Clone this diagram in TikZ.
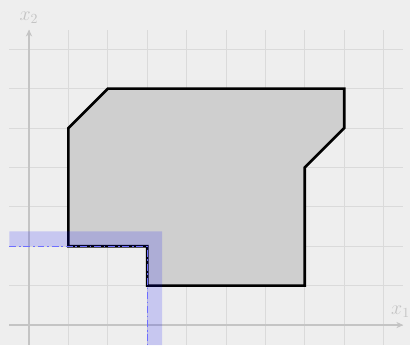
\documentclass[tikz,border=0pt]{standalone}
\usetikzlibrary{arrows.meta}
\definecolor{bgc}{HTML}{EEEEEE}
\definecolor{gridc}{HTML}{DADADA}
\definecolor{axisc}{HTML}{C4C4C4}
\definecolor{polyc}{HTML}{CFCFCF}
\definecolor{dashc}{HTML}{6E6EFF}
\tikzset{
  axisline/.style={draw=axisc, line width=0.8pt, -{Stealth[length=5pt,width=4.5pt]}},
  axislabel/.style={text=axisc, font=\Large},
  polystyle/.style={draw=black, fill=polyc, line width=1.9pt, line join=miter},
  bandstyle/.style={fill=blue, fill opacity=0.16},
  cutline/.style={draw=dashc, line width=1pt, dash pattern=on 5pt off 2pt on 1.2pt off 2pt}
}
\begin{document}
\begin{tikzpicture}
\useasboundingbox[fill=bgc] (-0.736,-0.51) rectangle (9.67,8.25);
\draw[gridc, line width=0.6pt] (-0.5,-0.5) grid (9.5,7.5);
\draw[axisline] (-0.5,0) -- (9.5,0) coordinate (xend);
\draw[axisline] (0,-0.5) -- (0,7.5) coordinate (yend);
\node[axislabel, anchor=south, inner sep=1pt] (xl) at ([xshift=-2pt,yshift=4pt]xend) {$x_1$};
\node[axislabel, anchor=south, inner sep=1pt] (yl) at ([yshift=3pt]yend) {$x_2$};
\draw[polystyle] (1,2) -- (1,5) -- (2,6) -- (8,6) -- (8,5) -- (7,4) -- (7,1) -- (3,1) -- (3,2) -- cycle;
\fill[bandstyle] (-0.5,2) -- (3,2) -- (3,-0.51) -- (3.38,-0.51) -- (3.38,2.38) -- (-0.5,2.38) -- cycle;
\draw[cutline] (-0.5,2) -- (3,2) -- (3,-0.51);
\end{tikzpicture}
\end{document}
